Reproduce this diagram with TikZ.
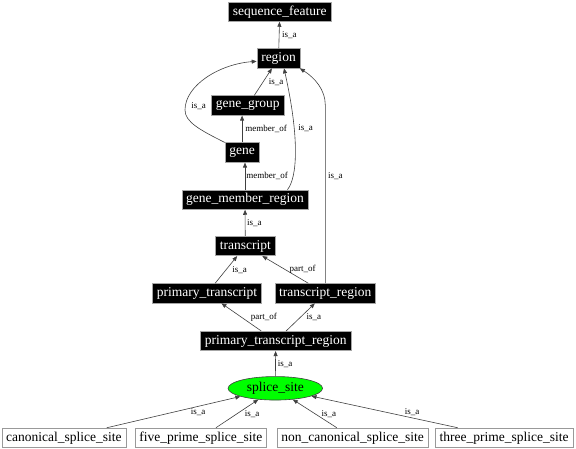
\documentclass[tikz,border=0pt]{standalone}
\usepackage{fontspec}
\setmainfont{Liberation Serif}
\usetikzlibrary{arrows.meta,shapes.geometric}
\tikzset{
  blk/.style={rectangle,fill=black,draw=gray!70,line width=0.6pt,text=white,
    font=\fontsize{13.5}{14}\selectfont,inner xsep=4.3pt,inner ysep=0pt,minimum height=19.5pt},
  wht/.style={rectangle,fill=white,draw=gray!80,line width=0.6pt,text=black,
    font=\fontsize{13.5}{14}\selectfont,inner xsep=4.3pt,inner ysep=0pt,minimum height=19.5pt},
  grn/.style={ellipse,fill=green,draw=black!75,line width=0.6pt,text=black,
    font=\fontsize{13.5}{14}\selectfont,inner sep=0pt,minimum width=94.5pt,minimum height=23.5pt},
  edge/.style={draw=black!75,line width=0.6pt,-{Triangle[length=5pt,width=4pt]}},
  elabel/.style={font=\fontsize{9}{10}\selectfont,text=black,inner sep=0pt,anchor=west}
}
\begin{document}
\begin{tikzpicture}[x=1pt,y=-1pt]
\useasboundingbox (0,0) rectangle (576,449);
\node[blk] (seq) at (279.8,11.7) {sequence\_feature};
\node[blk] (region) at (278.5,58.3) {region};
\node[blk] (gg) at (247.7,105.5) {gene\_group};
\node[blk] (gene) at (242.1,152.5) {gene};
\node[blk] (gmr) at (245,199.7) {gene\_member\_region};
\node[blk] (tx) at (245.3,246) {transcript};
\node[blk] (pt) at (207,293.3) {primary\_transcript};
\node[blk] (tr) at (325.3,293.3) {transcript\_region};
\node[blk] (ptr) at (275.7,341) {primary\_transcript\_region};
\node[grn] (ss) at (275.3,388.3) {splice\_site};
\node[wht] (can) at (63.9,437.8) {canonical\_splice\_site};
\node[wht] (five) at (200.8,437.8) {five\_prime\_splice\_site};
\node[wht] (non) at (352.5,437.8) {non\_canonical\_splice\_site};
\node[wht] (three) at (504.2,437.8) {three\_prime\_splice\_site};

\draw[edge] (region) -- (seq) node[elabel,midway,xshift=2.7pt] {is\_a};
\draw[edge] (gg) -- (region) node[elabel,midway,xshift=5.5pt] {is\_a};
\draw[edge] (gene.north west) .. controls (200,130) and (185,122) .. (185,110)
  node[elabel,xshift=6pt,yshift=3.5pt] {is\_a}
  .. controls (185,85) and (220,64) .. ([yshift=-3pt]region.west);
\draw[edge] (gene.north) -- (gene.north |- gg.south) node[elabel,midway,xshift=3pt] {member\_of};
\draw[edge] ([xshift=-21pt]gmr.north east) .. controls (297,178) and (300,140) .. ([xshift=5.5pt]region.south)
  node[elabel,pos=0.67,xshift=4pt] {is\_a};
\draw[edge] (gmr.north) -- (gmr.north |- gene.south) node[elabel,midway,xshift=1pt] {member\_of};
\draw[edge] (tr.north) -- (325.3,105) node[elabel,pos=0.603,xshift=2.4pt] {is\_a}
  .. controls (325.3,90) and (315,78) .. ([xshift=-0.5pt]region.south east);
\draw[edge] (tx) -- (gmr) node[elabel,midway,xshift=1.7pt] {is\_a};
\draw[edge] (pt) -- (tx) node[elabel,midway,xshift=5.8pt] {is\_a};
\draw[edge] (tr) -- (tx) node[elabel,midway,xshift=4pt] {part\_of};
\draw[edge] (ptr) -- (pt) node[elabel,midway,xshift=9.3pt] {part\_of};
\draw[edge] (ptr) -- (tr) node[elabel,midway,xshift=5.7pt] {is\_a};
\draw[edge] (ss) -- (ptr) node[elabel,midway,xshift=2pt] {is\_a};
\draw[edge] (can) -- (ss) node[elabel,midway,xshift=17pt] {is\_a};
\draw[edge] (five) -- (ss) node[elabel,midway,xshift=7.5pt] {is\_a};
\draw[edge] (non) -- (ss) node[elabel,midway,xshift=6.4pt] {is\_a};
\draw[edge] (three) -- (ss) node[elabel,midway,xshift=20pt] {is\_a};
\end{tikzpicture}
\end{document}
